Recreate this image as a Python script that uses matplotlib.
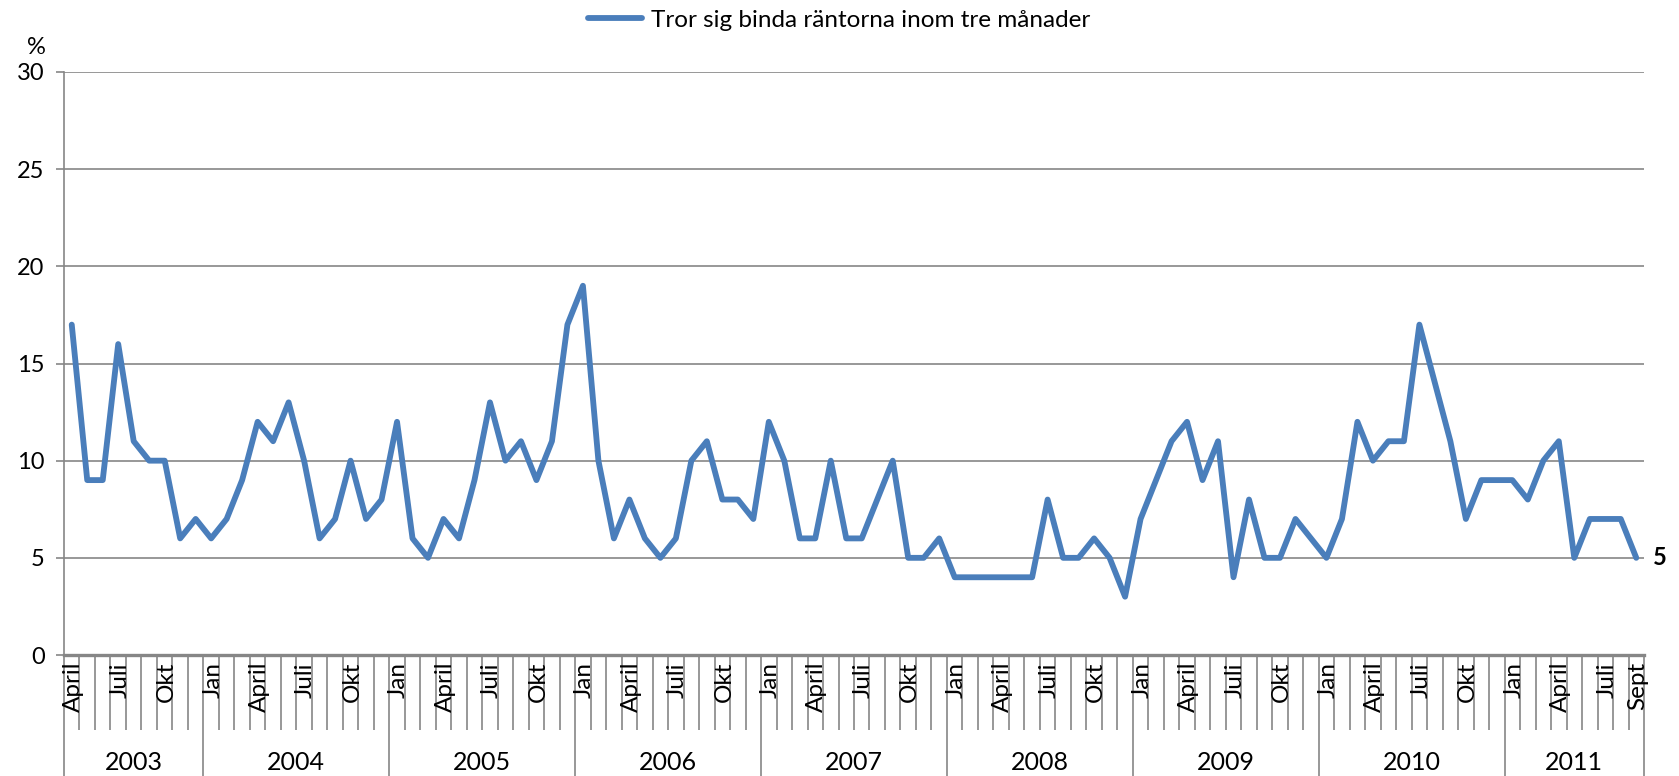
import matplotlib
matplotlib.use("Agg")
import matplotlib.pyplot as plt
import matplotlib.transforms as mtransforms
import numpy as np

plt.rcParams['font.family'] = ['Lato', 'DejaVu Sans']

# andel som tror sig binda räntorna inom tre månader, april 2003 - sept 2011
values = [17, 9, 9, 16, 11, 10, 10, 6, 7,                  # 2003
          6, 7, 9, 12, 11, 13, 10, 6, 7, 10, 7, 8,          # 2004
          12, 6, 5, 7, 6, 9, 13, 10, 11, 9, 11, 17,         # 2005
          19, 10, 6, 8, 6, 5, 6, 10, 11, 8, 8, 7,           # 2006
          12, 10, 6, 6, 10, 6, 6, 8, 10, 5, 5, 6,           # 2007
          4, 4, 4, 4, 4, 4, 8, 5, 5, 6, 5, 3,               # 2008
          7, 9, 11, 12, 9, 11, 4, 8, 5, 5, 7, 6,            # 2009
          5, 7, 12, 10, 11, 11, 17, 14, 11, 7, 9, 9,        # 2010
          9, 8, 10, 11, 5, 7, 7, 7, 5]                      # 2011
years = ['2003', '2004', '2005', '2006', '2007', '2008', '2009', '2010', '2011']
months_per_year = [9, 12, 12, 12, 12, 12, 12, 12, 9]
month_names = ['Jan', 'Feb', 'Mars', 'April', 'Maj', 'Juni', 'Juli', 'Aug',
               'Sept', 'Okt', 'Nov', 'Dec']
shown_months = ['Jan', 'April', 'Juli', 'Okt']
series_name = 'Tror sig binda räntorna inom tre månader'

W, H = 1679, 776
fig = plt.figure(figsize=(W / 100, H / 100), dpi=100)
ax_l, ax_r, ax_t, ax_b = 64, 1644, 72, 655
ax = fig.add_axes([ax_l / W, 1 - ax_b / H, (ax_r - ax_l) / W, (ax_b - ax_t) / H])

grey = '#868686'
blue = '#4A7EBB'
fs = 17

x = np.arange(len(values))
line, = ax.plot(x, values, color=blue, lw=4.2, solid_joinstyle='round',
                solid_capstyle='round', label=series_name, zorder=3, clip_on=False)

ax.set_xlim(-0.5, len(values) - 0.5)
ax.set_ylim(0, 30)
ax.set_yticks(range(0, 31, 5))
ax.grid(axis='y', color=grey, lw=1.2)
ax.set_axisbelow(True)
for s in ['top', 'right']:
    ax.spines[s].set_visible(False)
ax.spines['left'].set_color(grey)
ax.spines['left'].set_linewidth(1.2)
ax.spines['bottom'].set_color(grey)
ax.spines['bottom'].set_linewidth(2.4)
ax.tick_params(axis='y', length=6, width=1.2, color=grey, pad=8, labelsize=fs)

# month separators (short) and year separators (long)
bounds = np.cumsum([0] + months_per_year) - 0.5
ax.set_xticks(bounds)
ax.set_xticklabels([])
ax.set_xticks(np.arange(-0.5, len(values), 1), minor=True)
ax.tick_params(axis='x', which='major', length=88, width=1.2, color=grey)
ax.tick_params(axis='x', which='minor', length=54, width=1.2, color=grey)

trans = mtransforms.blended_transform_factory(ax.transData, ax.transAxes)
ah = ax_b - ax_t

# month labels
idx = 0
for yi, n in enumerate(months_per_year):
    start = 3 if yi == 0 else 0
    for m in range(start, start + n):
        name = month_names[m]
        if name in shown_months or idx == len(values) - 1:
            ax.text(idx + 0.1, -7 / ah, name, transform=trans, rotation=90,
                    ha='center', va='top', fontsize=17.5)
        idx += 1

# year labels
for yi, yr in enumerate(years):
    ax.text((bounds[yi] + bounds[yi + 1]) / 2, -107 / ah, yr, transform=trans,
            ha='center', va='center', fontsize=18)

# last value label
ax.annotate(str(values[-1]), (x[-1], values[-1]), xytext=(12, 0),
            textcoords='offset points', ha='left', va='center',
            fontsize=fs, fontweight='bold')

fig.text(36 / W, 1 - 47 / H, '%', ha='center', va='center', fontsize=fs)

fig.legend(handles=[line], loc='center', bbox_to_anchor=(0.5, 1 - 20 / H),
           frameon=False, fontsize=17.5, handlelength=2.2, handletextpad=0.4)

fig.savefig('out.png', dpi=100)
